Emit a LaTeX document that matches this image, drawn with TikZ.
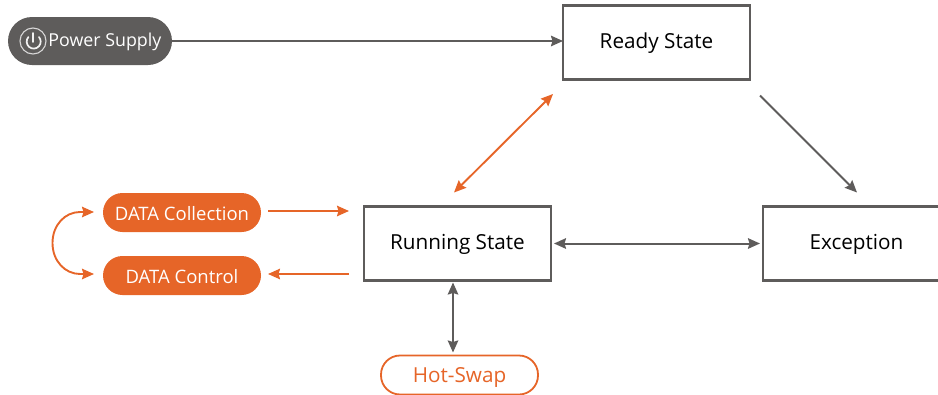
\documentclass[tikz,border=0pt]{standalone}
\usepackage{fontspec}
\setmainfont{Open Sans}
\usetikzlibrary{arrows.meta,calc}
\definecolor{ink}{HTML}{5E5C5B}
\definecolor{org}{HTML}{E66528}
\tikzset{
  x=1pt,y=-1pt,
  every node/.style={inner sep=0pt,outer sep=0pt,font=\fontsize{20.7}{24}\selectfont},
  statebox/.style={draw=ink,line width=2.1pt,minimum width=187pt,minimum height=74pt,text=black,fill=white,text height=15pt,text depth=3pt},
  pillorg/.style={fill=org,text=white,rounded corners=19.5pt,minimum width=158pt,minimum height=39pt,font=\fontsize{18.5}{22}\selectfont,text height=18pt,text depth=2pt},
  pillout/.style={draw=org,line width=1.8pt,text=org,rounded corners=19pt,minimum width=157pt,minimum height=39pt,fill=white,text height=18pt,text depth=2.6pt},
  pillink/.style={fill=ink,text=white,rounded corners=24pt,minimum width=164pt,minimum height=48pt},
  tipdark/.style={draw=ink,line width=2pt},
  tiporg/.style={draw=org,line width=1.9pt},
  conn/.style={-{Stealth[length=12pt,width=10.5pt,inset=1.5pt]}},
  connboth/.style={{Stealth[length=12pt,width=10.5pt,inset=1.5pt]}-{Stealth[length=12pt,width=10.5pt,inset=1.5pt]}},
}
\begin{document}
\begin{tikzpicture}
\useasboundingbox (0,0) rectangle (938,394);
\node[statebox] (ready) at (656.5,42.5) {Ready State};
\node[statebox] (running) at (457.5,243.5) {Running State};
\node[statebox] (exception) at (856.5,243.5) {Exception};
\node[pillink] (power) at (90,41) {};
\node[text=white,anchor=west,font=\fontsize{17.8}{21}\selectfont,text height=15pt,text depth=3.6pt] (powerlabel) at (48.5,41) {Power Supply};
\node[draw=white!75!ink,line width=1.1pt,circle,minimum size=26pt] (powericon) at (33,41) {};
\draw[white!92!ink,line width=1.7pt,line cap=round] ($(powericon)+(-4.6,-4)$) arc[start angle=221,end angle=-41,x radius=7pt,y radius=-7pt];
\draw[white!92!ink,line width=1.7pt,line cap=round] ($(powericon)+(0,-8)$) -- ($(powericon)+(0,1)$);
\node[pillorg] (collect) at (182,212.5) {DATA Collection};
\node[pillorg] (control) at (182,275.5) {DATA Control};
\node[pillout] (hotswap) at (459.5,375) {Hot-Swap};
\draw[tipdark,conn] (power.east) -- (power.east -| ready.west);
\draw[tiporg,connboth] ([shift={(-3.5,-14)}]running.north) -- ([shift={(-103.5,14.5)}]ready.south);
\draw[tipdark,conn] ([shift={(103.5,16)}]ready.south) -- ([shift={(0.5,-14)}]exception.north);
\draw[tipdark,connboth] ([xshift=3pt]running.east) -- ([xshift=-3pt]exception.west);
\draw[tipdark,connboth] ([shift={(-4.5,2)}]running.south) -- ([shift={(-6.5,-3)}]hotswap.north);
\draw[tiporg,conn] ([shift={(7,-1.5)}]collect.east) -- ([shift={(-15,-32.5)}]running.west);
\draw[tiporg,conn] ([shift={(-15,30.5)}]running.west) -- ([shift={(7,-1.5)}]control.east);
\draw[tiporg,connboth] ([shift={(-9,-0.5)}]collect.west) -- (80,212) .. controls (65,212) and (52.5,225) .. (52.5,243) .. controls (52.5,261) and (65,274) .. (80,274) -- ([shift={(-9,-1.5)}]control.west);
\end{tikzpicture}
\end{document}
